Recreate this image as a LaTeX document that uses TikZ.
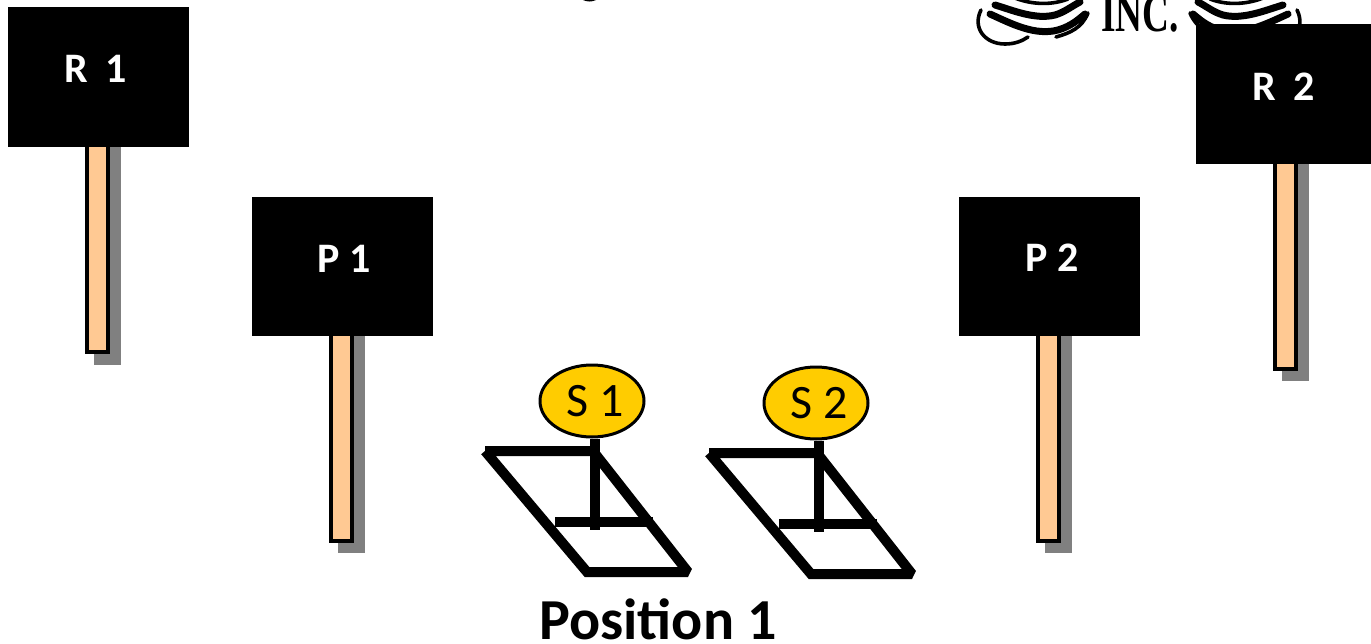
\documentclass[tikz,border=0pt]{standalone}
\usepackage{fontspec}
\setmainfont{Carlito}
\newfontfamily\logofont{Liberation Serif}
\usetikzlibrary{shapes.geometric}
\tikzset{
  x=1pt,y=-1pt,
  signbox/.style={fill=black,draw=none,minimum width=181pt,minimum height=140pt,inner sep=0pt,anchor=north west},
  signlabel/.style={text=white,inner sep=0pt,font=\bfseries\fontsize{42}{46}\selectfont},
  stick/.style={fill=stickfill,draw=black,line width=4pt,miter limit=10},
  stickshadow/.style={fill=shadowgray,draw=none},
  sensor/.style={ellipse,fill=sensorfill,draw=black,line width=3pt,minimum width=104pt,minimum height=72pt,inner sep=0pt,font=\fontsize{48}{52}\selectfont},
  frameline/.style={draw=black,line width=10pt,line join=miter,miter limit=1.5},
  stemline/.style={draw=black,line width=9.5pt},
  swirl/.style={draw=black,line cap=round,line width=3.6pt},
  swirlthick/.style={draw=black,line cap=round,line width=7pt},
}
\definecolor{stickfill}{HTML}{FFC993}
\definecolor{shadowgray}{HTML}{808080}
\definecolor{sensorfill}{HTML}{FFCC00}
\newcommand{\LogoSwirl}{
  \draw[swirl] (981,10) .. controls (972,28) and (985,44) .. (1005,44) .. controls (1015,44) and (1022,41) .. (1028,37);
  \draw[swirlthick] (990,14) .. controls (1012,24) and (1035,36) .. (1058,30) .. controls (1072,26) and (1080,18) .. (1085,14);
  \draw[swirl] (1056,37) .. controls (1070,33) and (1082,28) .. (1088,13);
  \draw[swirlthick] (995,5) .. controls (1012,10) and (1035,20) .. (1055,15) .. controls (1065,12) and (1072,6) .. (1080,2);
  \draw[swirl] (1015,-2) .. controls (1030,4) and (1050,6) .. (1068,-1);
}
\begin{document}
\begin{tikzpicture}
\useasboundingbox (0,0) rectangle (1371,643);
% logo fragments
\LogoSwirl
\begin{scope}[xshift=2278pt,xscale=-1]\LogoSwirl\end{scope}
\node[anchor=base,inner sep=0pt] (logotext) at (1140,31) {\scalebox{0.69}[1]{\logofont\bfseries\fontsize{54}{58}\selectfont INC.}};
\fill (583,0) .. controls (587,2) and (592,2) .. (596,0) -- cycle;
% sticks
\fill[stickshadow] (94,147) rectangle (121,365);
\fill[stickshadow] (338,336) rectangle (365,553);
\fill[stickshadow] (1045,336) rectangle (1072,553);
\fill[stickshadow] (1282,164) rectangle (1309,381);
\draw[stick] (87,140) rectangle (108,352);
\draw[stick] (331,330) rectangle (352,541);
\draw[stick] (1038,330) rectangle (1059,541);
\draw[stick] (1275,158) rectangle (1296,369);
% signs
\node[signbox] (r1) at (8,7) {};
\node[signbox,minimum height=139pt] (p1) at (252,197) {};
\node[signbox,minimum height=139pt] (p2) at (959,197) {};
\node[signbox,minimum width=175pt] (r2) at (1196,24) {};
\node[signlabel] (r1t) at (95.5,69) {R\hspace{0.42em}1};
\node[signlabel] (p1t) at (344.5,259) {P 1};
\node[signlabel] (p2t) at (1052,258) {P 2};
\node[signlabel] (r2t) at (1284,87) {R\hspace{0.42em}2};
% sensors
\draw[frameline] (485,451) -- (593,451) (593,451) -- (688,572) -- (587,572) -- (485,451);
\draw[frameline] (555,522) -- (653,522);
\draw[frameline] (709,453) -- (817,453) (817,453) -- (912,574) -- (811,574) -- (709,453);
\draw[frameline] (779,524) -- (877,524);
\node[sensor] (s1) at (592,401) {\hspace{6pt}S 1};
\node[sensor] (s2) at (816,403) {\hspace{7pt}S 2};
\coordinate (s1foot) at (595,530);
\coordinate (s2foot) at (819,532);
\draw[stemline] (s1.south -| s1foot) -- (s1foot);
\draw[stemline] (s2.south -| s2foot) -- (s2foot);
\node[anchor=base,inner sep=0pt,font=\bfseries\fontsize{58}{62}\selectfont] (caption) at (658,639) {Position 1};
\end{tikzpicture}
\end{document}
